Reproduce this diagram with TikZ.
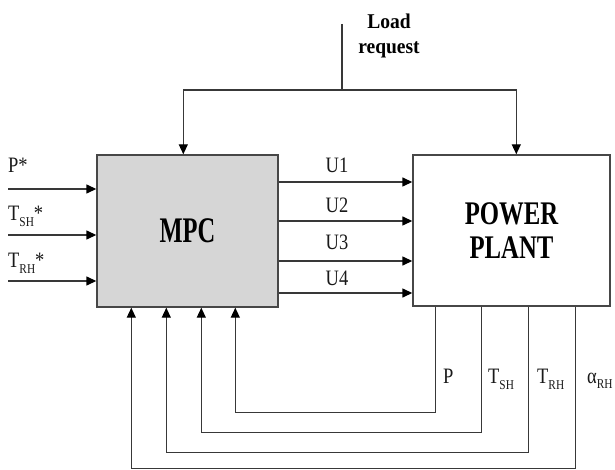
\documentclass[tikz,border=0pt]{standalone}
\usepackage{fontspec}
\setmainfont{Liberation Serif}
\newfontfamily\fU[FakeStretch=0.84]{Liberation Serif}
\newfontfamily\fLoad[FakeStretch=0.93]{Liberation Serif}
\newfontfamily\fMPC[FakeStretch=0.68]{Liberation Serif}
\newfontfamily\fPP[FakeStretch=0.75]{Liberation Serif}
\usetikzlibrary{arrows.meta,calc}
\newcommand{\sbx}[1]{\raisebox{-6pt}{\fontsize{13.5}{13.5}\selectfont #1}}
\begin{document}
\begin{tikzpicture}[x=1pt,y=-1pt,
  line/.style={draw=black!78,line width=1.4pt},
  arr/.style={line,-{Triangle[length=10pt,width=9pt,color=black]}},
  lab/.style={anchor=base west,inner sep=0pt,text=black!90,font=\fU\fontsize{22}{22}\selectfont},
  ulab/.style={anchor=base,inner sep=0pt,text=black!90,font=\fU\fontsize{22}{22}\selectfont},
  boxst/.style={draw=black!72,line width=1.4pt,inner sep=0pt}]
\useasboundingbox (0,0) rectangle (615,470);
% blocks
\node[boxst,fill=black!16,minimum width=181pt,minimum height=152pt,
      font=\fMPC\bfseries\fontsize{36}{36}\selectfont] (mpc) at (187.5,231) {MPC};
\node[boxst,fill=white,minimum width=197pt,minimum height=151pt,align=center,
      font=\fPP\bfseries\fontsize{33}{34}\selectfont] (pp) at (511.5,230.5) {POWER\\PLANT};
% load request
\node[anchor=base,inner sep=0pt,font=\fLoad\bfseries\fontsize{21}{21}\selectfont] (load1) at (389,29) {Load};
\node[anchor=base,inner sep=0pt,font=\fLoad\bfseries\fontsize{21}{21}\selectfont] (load2) at (389,54) {request};
\coordinate (lt) at (342,24);
\coordinate (lj) at (342,90);
\draw[line] (lt) -- (lj);
\draw[arr] (lj) -| ([xshift=87pt]mpc.north west);
\draw[arr] (lj) -| ([xshift=104pt]pp.north west);
% set-point inputs
\foreach \y/\n in {189/1,235/2,281/3}{
  \coordinate (in\n) at (8,\y);
  \draw[arr] (in\n) -- (in\n -| mpc.west);
}
\node[lab] (pstar) at (8,173) {P*};
\node[lab] (tshstar) at (8,221) {T\sbx{SH}*};
\node[lab] (trhstar) at (8,267) {T\sbx{RH}*};
% control signals
\foreach \y/\n in {182/1,221/2,261/3,293/4}{
  \coordinate (h\n) at (0,\y);
  \draw[arr] (mpc.east |- h\n) -- (pp.west |- h\n);
}
\node[ulab] (u1) at (337,173) {U1};
\node[ulab] (u2) at (337,213) {U2};
\node[ulab] (u3) at (337,249) {U3};
\node[ulab] (u4) at (337,285) {U4};
% feedback
\draw[arr] ([xshift=23pt]pp.south west) -- ++(0,106) -| ([xshift=139pt]mpc.south west);
\draw[arr] ([xshift=69pt]pp.south west) -- ++(0,126) -| ([xshift=105pt]mpc.south west);
\draw[arr] ([xshift=116pt]pp.south west) -- ++(0,146) -| ([xshift=70pt]mpc.south west);
\draw[arr] ([xshift=163pt]pp.south west) -- ++(0,162) -| ([xshift=35pt]mpc.south west);
\node[lab] (fp) at (443,383) {P};
\node[lab] (ftsh) at (488,383) {T\sbx{SH}};
\node[lab] (ftrh) at (537,383) {T\sbx{RH}};
\node[lab] (farh) at (587,383) {α\raisebox{-5pt}{\fontsize{13.5}{13.5}\selectfont RH}};
\end{tikzpicture}
\end{document}
